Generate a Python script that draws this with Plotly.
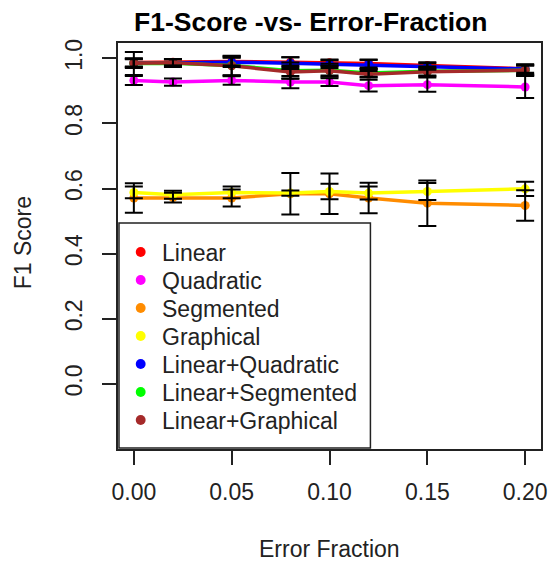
import plotly.graph_objects as go

error_fraction = [0, 0.02, 0.05, 0.08, 0.10, 0.12, 0.15, 0.20]

series_names = ["Linear", "Quadratic", "Segmented", "Graphical",
                "Linear+Quadratic", "Linear+Segmented", "Linear+Graphical"]
series_colors = ["#FF0000", "#FF00FF", "#FF8C00", "#FFFF00",
                 "#0000FF", "#00FF00", "#A52A2A"]

linear = [0.987, 0.988, 0.990, 0.988, 0.986, 0.984, 0.978, 0.968]
quadratic = [0.932, 0.927, 0.932, 0.927, 0.927, 0.916, 0.919, 0.912]
segmented = [0.571, 0.572, 0.571, 0.584, 0.584, 0.571, 0.555, 0.548]
graphical = [0.588, 0.581, 0.588, 0.586, 0.591, 0.586, 0.591, 0.599]
lin_quad = [0.985, 0.987, 0.988, 0.985, 0.982, 0.981, 0.975, 0.967]
lin_seg = [0.984, 0.985, 0.978, 0.962, 0.963, 0.955, 0.960, 0.963]
lin_graph = [0.985, 0.986, 0.977, 0.958, 0.962, 0.951, 0.959, 0.963]

err_linear = [0.012, 0.010, 0.012, 0.015, 0.010, 0.012, 0.010, 0.012]
err_quadratic = [0.014, 0.011, 0.013, 0.019, 0.012, 0.018, 0.022, 0.034]
err_segmented = [0.045, 0.015, 0.026, 0.064, 0.062, 0.047, 0.070, 0.047]
err_graphical = [0.018, 0.012, 0.018, 0.008, 0.024, 0.020, 0.026, 0.022]
err_lin_quad = [0.012, 0.010, 0.015, 0.018, 0.012, 0.014, 0.010, 0.015]
err_lin_seg = [0.035, 0.012, 0.030, 0.025, 0.020, 0.012, 0.015, 0.015]
err_lin_graph = [0.015, 0.012, 0.030, 0.020, 0.015, 0.010, 0.012, 0.015]

values = [linear, quadratic, segmented, graphical, lin_quad, lin_seg, lin_graph]
errors = [err_linear, err_quadratic, err_segmented, err_graphical,
          err_lin_quad, err_lin_seg, err_lin_graph]

FONT = "Liberation Sans, Arial, Helvetica, sans-serif"
TXT = "#222222"

fig = go.Figure()

# lines with points
for name, col, ys in zip(series_names, series_colors, values):
    fig.add_trace(go.Scatter(
        x=error_fraction, y=ys, mode="lines+markers", name=name,
        line=dict(color=col, width=3.5), marker=dict(color=col, size=9),
        showlegend=False))

# black error bars on top
for ys, es in zip(values, errors):
    fig.add_trace(go.Scatter(
        x=error_fraction, y=ys, mode="markers",
        marker=dict(size=1, opacity=0),
        error_y=dict(type="data", array=es, visible=True,
                     color="#000000", thickness=2, width=9),
        showlegend=False, hoverinfo="skip"))

# plot area px: left 118, right 547, top 43, bottom 449
L, R, T, B = 118, 547, 43, 449
W, H = 555, 561
pw, ph = R - L, B - T

def px_x(p):
    return (p - L) / pw

def px_y(p):
    return (B - p) / ph

shapes = []
annotations = []

# legend box (R-style legend drawn inside the plot)
shapes.append(dict(type="rect", xref="paper", yref="paper",
                   x0=px_x(119), x1=px_x(374), y0=px_y(448), y1=px_y(223),
                   line=dict(color=TXT, width=1.5), fillcolor="white",
                   layer="above"))
for i, (name, col) in enumerate(zip(series_names, series_colors)):
    cy = 252 + 28 * i
    shapes.append(dict(type="circle", xref="paper", yref="paper",
                       x0=px_x(136), x1=px_x(146), y0=px_y(cy + 5), y1=px_y(cy - 5),
                       line=dict(color=col, width=0), fillcolor=col, layer="above"))
    annotations.append(dict(text=name, xref="paper", yref="paper",
                            x=px_x(161), y=px_y(cy + 1), xanchor="left", yanchor="middle",
                            showarrow=False,
                            font=dict(family=FONT, size=23, color=TXT)))

annotations += [
    dict(text="<b>F1-Score -vs- Error-Fraction</b>", xref="paper", yref="paper",
         x=px_x(313), y=px_y(22), xanchor="center", yanchor="middle",
         showarrow=False, font=dict(family=FONT, size=26.5, color="#000000")),
    dict(text="Error Fraction", xref="paper", yref="paper",
         x=px_x(333), y=px_y(549), xanchor="center", yanchor="middle",
         showarrow=False, font=dict(family=FONT, size=23, color=TXT)),
    dict(text="F1 Score", xref="paper", yref="paper",
         x=px_x(22), y=px_y(243), xanchor="center", yanchor="middle",
         textangle=-90,
         showarrow=False, font=dict(family=FONT, size=23, color=TXT)),
]

fig.update_layout(
    width=W, height=H,
    margin=dict(l=L, r=W - R, t=T, b=H - B),
    paper_bgcolor="white", plot_bgcolor="white",
    font=dict(family=FONT, size=23, color=TXT),
    showlegend=False,
    xaxis=dict(range=[-0.0081, 0.2081], tickvals=[0, 0.05, 0.10, 0.15, 0.20],
               ticktext=["0.00", "0.05", "0.10", "0.15", "0.20"],
               ticks="outside", ticklen=14, tickwidth=1.5, tickcolor=TXT,
               showline=True, linecolor=TXT, linewidth=1.5, mirror=True,
               showgrid=False, zeroline=False,
               ticklabelstandoff=8,
               tickfont=dict(family=FONT, size=23, color=TXT)),
    yaxis=dict(range=[-0.2, 1.047], tickvals=[0, 0.2, 0.4, 0.6, 0.8, 1.0],
               ticktext=["0.0", "0.2", "0.4", "0.6", "0.8", "1.0"],
               tickangle=-90,
               ticks="outside", ticklen=14, tickwidth=1.5, tickcolor=TXT,
               showline=True, linecolor=TXT, linewidth=1.5, mirror=True,
               showgrid=False, zeroline=False,
               ticklabelstandoff=11,
               tickfont=dict(family=FONT, size=23, color=TXT)),
    shapes=shapes,
    annotations=annotations,
)

fig.write_html("out.html")
